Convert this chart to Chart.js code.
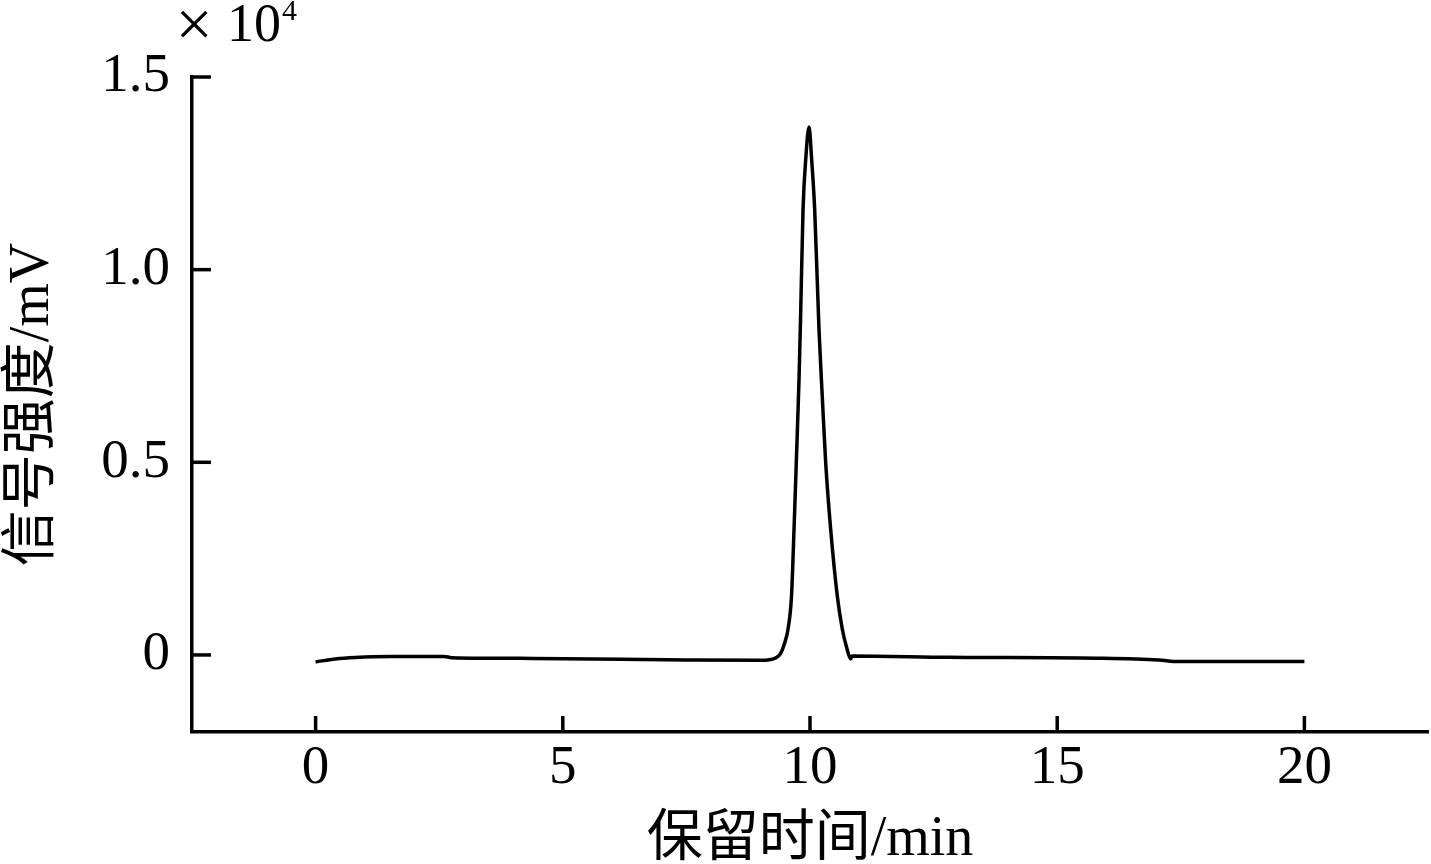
<!DOCTYPE html>
<html>
<head>
<meta charset="utf-8">
<script src="https://cdn.jsdelivr.net/npm/chart.js@4"></script>
<style>
  html, body { margin: 0; padding: 0; background: #fff; }
  #wrap { width: 1431px; height: 864px; }
</style>
</head>
<body>
<div id="wrap"><canvas id="chart" width="1431" height="864"></canvas></div>
<script>
// retention time (min) and signal (mV)
const retentionTime = [0, 0.4, 0.8, 1.5, 2.6, 2.75, 4.4, 7.5, 9.0, 9.15, 9.3, 9.4, 9.48, 9.556, 9.626, 9.677, 9.723, 9.778, 9.812, 9.859, 9.913, 9.98,
  10.034, 10.095, 10.182, 10.248, 10.317, 10.418, 10.552, 10.653, 10.74, 10.822, 10.848, 12.8, 15.8, 17.05, 17.45, 20];
const signal = [-181, -104, -65, -39, -39, -70, -90, -130, -140, -130, -80, 30, 280, 674, 1528, 3264, 5000, 7150, 8900, 11554, 12850, 13705,
  12850, 11554, 8446, 6710, 5000, 3264, 1528, 674, 200, -104, -26, -60, -85, -130, -173, -173];
const xTicks = [0, 5, 10, 15, 20];
const yTicks = [0, 5000, 10000, 15000];
const yTickLabels = ['0', '0.5', '1.0', '1.5'];

const points = retentionTime.map((t, i) => ({ x: t, y: signal[i] }));

// ticks point inward, drawn from the scales
const innerTicks = {
  id: 'innerTicks',
  afterDatasetsDraw(chart) {
    const { ctx, scales: { x, y }, chartArea } = chart;
    ctx.save();
    ctx.strokeStyle = '#000';
    ctx.lineWidth = 3.5;
    yTicks.forEach(v => {
      const py = y.getPixelForValue(v);
      ctx.beginPath();
      ctx.moveTo(chartArea.left, py);
      ctx.lineTo(chartArea.left + 19, py);
      ctx.stroke();
    });
    xTicks.forEach(v => {
      const px = x.getPixelForValue(v);
      ctx.beginPath();
      ctx.moveTo(px, chartArea.bottom);
      ctx.lineTo(px, chartArea.bottom - 16);
      ctx.stroke();
    });
    // exponent label
    ctx.fillStyle = '#000';
    ctx.textBaseline = 'alphabetic';
    ctx.textAlign = 'center';
    ctx.font = '66px "Liberation Serif"';
    ctx.fillText('\u00d7', 194, 46);
    ctx.textAlign = 'left';
    ctx.font = '54px "Liberation Serif"';
    ctx.fillText('10', 227, 41);
    ctx.font = '30px "Liberation Serif"';
    ctx.fillText('4', 282, 20);
    ctx.restore();
  }
};

new Chart(document.getElementById('chart'), {
  type: 'line',
  data: {
    datasets: [{
      data: points,
      borderColor: '#000',
      borderWidth: 3.5,
      pointRadius: 0,
      cubicInterpolationMode: 'monotone',
      fill: false
    }]
  },
  options: {
    responsive: false,
    animation: false,
    devicePixelRatio: 1,
    layout: { padding: { top: 77, right: 3, left: 0, bottom: 0 } },
    plugins: { legend: { display: false }, tooltip: { enabled: false } },
    scales: {
      x: {
        type: 'linear',
        min: -2.5,
        max: 22.5,
        afterBuildTicks: s => { s.ticks = xTicks.map(v => ({ value: v })); },
        afterFit: s => { s.height = 132; },
        grid: { display: false, drawTicks: false },
        border: { display: true, color: '#000', width: 3.5 },
        ticks: { color: '#000', padding: 4, font: { family: 'Liberation Serif', size: 55 }, maxRotation: 0 },
        title: {
          display: true,
          text: '保留时间/min',
          color: '#000',
          padding: { top: 0, bottom: -10 },
          font: { family: "'Liberation Serif', 'Noto Sans CJK SC'", size: 56 }
        }
      },
      y: {
        type: 'linear',
        min: -2000,
        max: 15000,
        afterBuildTicks: s => { s.ticks = yTicks.map(v => ({ value: v })); },
        afterFit: s => { s.width = 192; },
        grid: { display: false, drawTicks: false },
        border: { display: true, color: '#000', width: 3.5 },
        ticks: {
          color: '#000',
          padding: 22,
          font: { family: 'Liberation Serif', size: 55 },
          callback: v => yTickLabels[yTicks.indexOf(v)]
        },
        title: {
          display: true,
          text: '信号强度/mV',
          color: '#000',
          padding: 0,
          font: { family: "'Liberation Serif', 'Noto Sans CJK SC'", size: 56 }
        }
      }
    }
  },
  plugins: [innerTicks]
});
</script>
</body>
</html>
